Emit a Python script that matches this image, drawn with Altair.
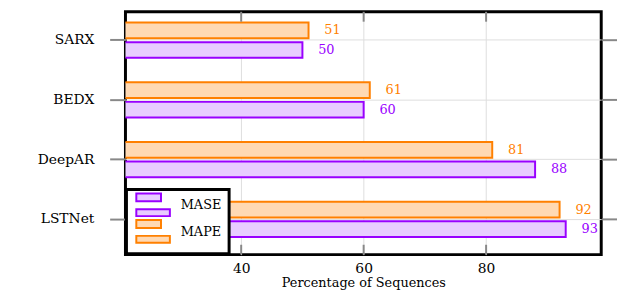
import altair as alt
import pandas as pd

models = ["SARX", "BEDX", "DeepAR", "LSTNet"]
mase = [50, 60, 88, 93]
mape = [51, 61, 81, 92]
series_order = ["MASE", "MAPE"]
x_ticks = [40, 60, 80]

fills = ["#e8ccff", "#ffd9b3"]
strokes = ["#9900ff", "#ff8000"]
x_domain = [21.1, 98.8]

W, H = 482, 246
FONT = "DejaVu Serif"

rows = []
for m, a, b in zip(models, mase, mape):
    rows.append({"model": m, "series": "MASE", "value": a})
    rows.append({"model": m, "series": "MAPE", "value": b})
df = pd.DataFrame(rows)
tick_df = pd.DataFrame({"t": x_ticks})
cat_df = pd.DataFrame({"model": models})

sym = "M-0.75,-1.5H2.375V-0.5H-0.75Z M-0.75,0.5H3.5V1.375H-0.75Z"
leg = alt.Legend(
    title=None, orient="bottom-left", offset=1, symbolType=sym, symbolSize=256,
    symbolStrokeWidth=2, labelFont=FONT, labelFontSize=13, labelColor="black",
    labelOffset=30, padding=7, rowPadding=-4, fillColor="white", strokeColor="black",
)

xs = alt.Scale(domain=x_domain, nice=False, zero=False)
ys = alt.Scale(domain=models, paddingInner=0.377, paddingOuter=0.221, align=0.37)
yo = alt.Scale(domain=["MAPE", "MASE"], paddingInner=0.2, paddingOuter=0.05)

x_enc = alt.X("value:Q", scale=xs, axis=alt.Axis(
    values=x_ticks, grid=True, gridColor="#dddddd", gridWidth=1, ticks=False, tickSize=0,
    domain=False, labelPadding=7, labelFont=FONT, labelFontSize=14, labelColor="black",
    title="Percentage of Sequences", titleFont=FONT, titleFontSize=13,
    titleFontWeight="normal", titleColor="black", titlePadding=1))
y_enc = alt.Y("model:N", scale=ys, axis=alt.Axis(
    title=None, grid=True, gridColor="#dddddd", gridWidth=1, ticks=True, tickSize=16,
    tickColor="#888888", tickWidth=2, domain=False, labelPadding=16, labelFont=FONT,
    labelFontSize=14, labelColor="black", minExtent=119, maxExtent=119))
yoff = alt.YOffset("series:N", scale=yo)

bars = alt.Chart(df).mark_bar(strokeWidth=2, clip=True).encode(
    x=x_enc, y=y_enc, yOffset=yoff,
    fill=alt.Fill("series:N", scale=alt.Scale(domain=series_order, range=fills), legend=leg),
    stroke=alt.Stroke("series:N", scale=alt.Scale(domain=series_order, range=strokes), legend=leg),
)

labels = alt.Chart(df).mark_text(align="left", baseline="middle", dx=16, font=FONT, fontSize=13).encode(
    x=alt.X("value:Q", scale=xs), y=alt.Y("model:N", scale=ys), yOffset=yoff,
    text=alt.Text("value:Q"),
    color=alt.Color("series:N", scale=alt.Scale(domain=series_order, range=strokes), legend=None),
)

top_ticks = alt.Chart(tick_df).mark_rule(color="#888888", strokeWidth=2).encode(
    x=alt.X("t:Q", scale=xs), y=alt.value(0), y2=alt.value(10))
bot_ticks = alt.Chart(tick_df).mark_rule(color="#888888", strokeWidth=2).encode(
    x=alt.X("t:Q", scale=xs), y=alt.value(H - 10), y2=alt.value(H))
right_ticks = alt.Chart(cat_df).mark_rule(color="#888888", strokeWidth=2).encode(
    y=alt.Y("model:N", scale=ys), x=alt.value(W + 1), x2=alt.value(W + 16))

chart = alt.layer(bars, labels, top_ticks, bot_ticks, right_ticks).properties(
    width=W, height=H, padding={"left": 0, "top": 1, "right": 0, "bottom": 0}
).configure_view(stroke="black", strokeWidth=3).configure_legend(strokeWidth=3)

chart.save("out.html", embed_options={"renderer": "svg", "actions": False})
